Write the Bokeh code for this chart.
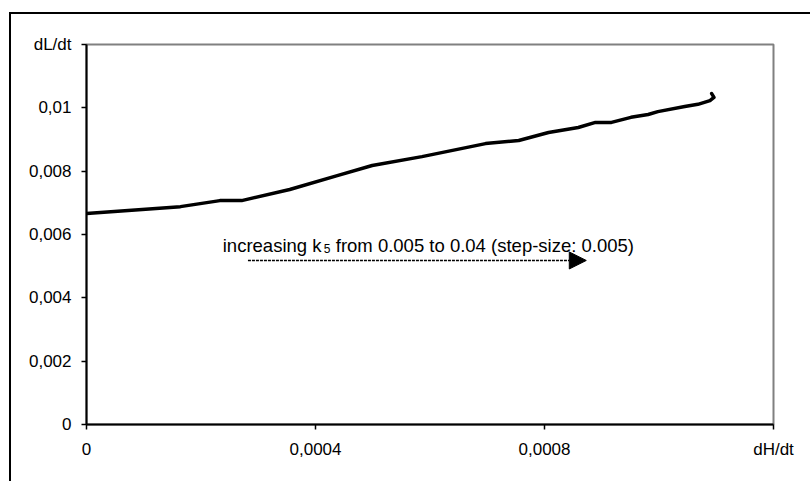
from bokeh.plotting import figure
from bokeh.models import Range1d, FixedTicker, Label, Arrow, NormalHead
from bokeh.embed import file_html
from bokeh.resources import INLINE

# Data (dH/dt vs dL/dt while k5 increases)
dHdt = [0.0, 0.000164, 0.000233, 0.000271, 0.000355, 0.000438, 0.000499,
        0.000586, 0.000697, 0.000755, 0.000807, 0.000859, 0.000889, 0.000917,
        0.000951, 0.000981, 0.000998, 0.001045, 0.001068, 0.001089, 0.001096,
        0.001092]
dLdt = [0.00666, 0.00688, 0.00707, 0.00707, 0.00742, 0.00786, 0.00818,
        0.00846, 0.00887, 0.00897, 0.00922, 0.00938, 0.00954, 0.00954,
        0.00970, 0.00979, 0.00988, 0.01004, 0.01011, 0.01023, 0.01033,
        0.01045]

x_ticks = [0.0, 0.0004, 0.0008, 0.0012]
x_tick_labels = ["0", "0,0004", "0,0008", "dH/dt"]
y_ticks = [0.0, 0.002, 0.004, 0.006, 0.008, 0.010, 0.012]
y_tick_labels = ["0", "0,002", "0,004", "0,006", "0,008", "0,01", "dL/dt"]

note_a = "increasing k"
note_sub = "5"
note_b = "from 0.005 to 0.04 (step-size: 0.005)"

FONT = "Liberation Sans"

p = figure(width=801, height=469,
           x_range=Range1d(0, 0.0012), y_range=Range1d(0, 0.012),
           output_backend="svg", toolbar_location=None,
           min_border_left=75, min_border_right=39,
           min_border_top=30, min_border_bottom=59)

p.styles = {"margin-top": "12px", "margin-left": "9px",
            "border-top": "2px solid black", "border-left": "2px solid black"}

p.background_fill_color = "white"
p.border_fill_color = "white"
p.outline_line_color = "#808080"
p.outline_line_width = 2
p.xgrid.visible = False
p.ygrid.visible = False

for ax, ticks, labels in ((p.xaxis[0], x_ticks, x_tick_labels),
                          (p.yaxis[0], y_ticks, y_tick_labels)):
    ax.ticker = FixedTicker(ticks=ticks)
    ax.major_label_overrides = {t: l for t, l in zip(ticks, labels)}
    ax.axis_line_color = "black"
    ax.axis_line_width = 2
    ax.major_tick_line_color = "black"
    ax.major_tick_line_width = 1.5
    ax.major_tick_out = 5
    ax.major_tick_in = 0
    ax.minor_tick_line_color = None
    ax.major_label_text_font = FONT
    ax.major_label_text_font_size = "17px"
    ax.major_label_text_color = "black"
    ax.major_label_standoff = 10

p.line(dHdt, dLdt, line_width=3.5, line_color="black",
       line_join="round", line_cap="round")

# Annotation with subscript
nx, ny = 0.000238, 0.00565
p.add_layout(Label(x=nx, y=ny, text=note_a, text_baseline="alphabetic",
                   text_font=FONT, text_font_size="18.5px", text_color="black"))
p.add_layout(Label(x=nx, y=ny, text=note_sub, x_offset=101, y_offset=-3,
                   text_baseline="alphabetic",
                   text_font=FONT, text_font_size="12px", text_color="black"))
p.add_layout(Label(x=nx, y=ny, text=note_b, x_offset=113,
                   text_baseline="alphabetic",
                   text_font=FONT, text_font_size="18.5px", text_color="black"))

p.add_layout(Arrow(x_start=0.000282, y_start=0.00518,
                   x_end=0.000873, y_end=0.00518,
                   line_color="black", line_width=1.5, line_dash="3 1",
                   end=NormalHead(size=17, fill_color="black",
                                  line_color="black", line_width=1)))

open("out.html", "w").write(file_html(p, INLINE))
